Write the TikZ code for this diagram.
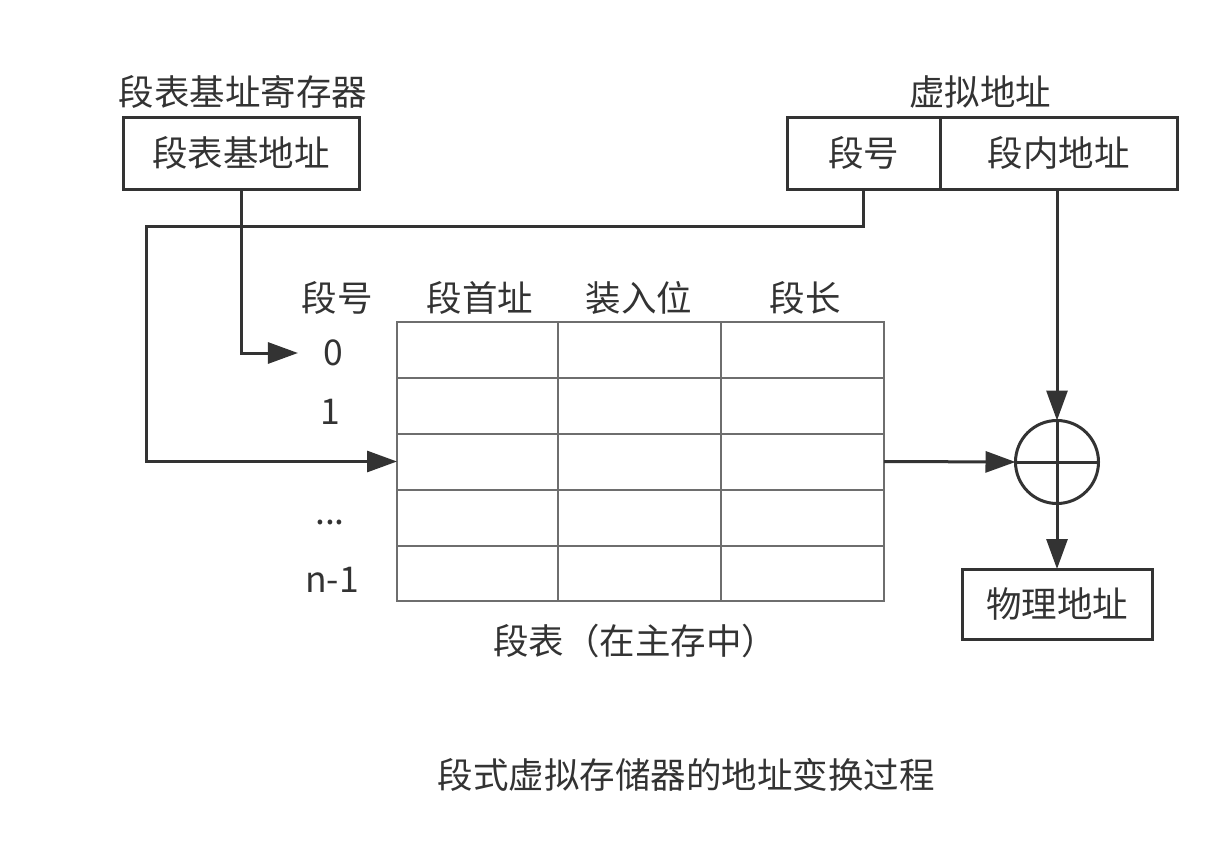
\documentclass[tikz,border=0pt]{standalone}
\usepackage{fontspec}
\setmainfont{Noto Sans CJK SC}
\usetikzlibrary{arrows.meta,positioning}
\definecolor{inkc}{HTML}{333333}
\definecolor{gridc}{HTML}{6E6E6E}
\tikzset{
  ar/.style={-{Triangle[length=30pt,width=21pt]},line width=3pt,inkc},
  box/.style={draw=inkc,line width=3pt,minimum height=72pt,inner sep=0pt,outer sep=0pt,text=inkc},
  lbl/.style={text=inkc,inner sep=0pt},
  grid/.style={gridc,line width=2pt}
}

\begin{document}
\begin{tikzpicture}[x=1pt,y=-1pt,every node/.style={font=\fontsize{35.5pt}{42pt}\selectfont}]
\useasboundingbox (0,0) rectangle (1224,846);
% segment table base register
\node[lbl] (regname) at (243,92) {段表基址寄存器};
\node[box,minimum width=236pt] (tbreg) at (241,153) {段表基地址};
% virtual address
\node[lbl] (vaname) at (980,92) {虚拟地址};
\node[box,minimum width=153pt] (vseg) at (863.5,153) {段号};
\node[box,minimum width=237pt,anchor=west] (voff) at (vseg.east) {段内地址};
% segment table
\node[draw=gridc,line width=2pt,minimum width=487pt,minimum height=279pt,inner sep=0pt,outer sep=0pt] (tbl) at (640.5,461.5) {};
\foreach \c in {558,721} \draw[grid] (\c,322) -- (\c,601);
\foreach \r in {378,434,490,546} \draw[grid] (397,\r) -- (884,\r);
\node[lbl] (hnum) at (337,298) {段号};
\node[lbl] (hbase) at (480,298) {段首址};
\node[lbl] (hload) at (639,298) {装入位};
\node[lbl] (hlen) at (805,298) {段长};
\node[lbl] (r0) at (333,353) {0};
\node[lbl] (r1) at (330,412) {1};
\node[lbl] (rdots) at (330,522) {...};
\node[lbl] (rn) at (332,580) {n-1};
\node[lbl] (tblname) at (635,641) {段表（在主存中）};
% adder and result
\node[draw=inkc,line width=3pt,circle,minimum size=83pt,inner sep=0pt,outer sep=0pt] (adder) at (1057,462) {};
\draw[inkc,line width=3pt] (adder.north) -- (adder.south) (adder.west) -- (adder.east);
\node[box,minimum width=190pt,minimum height=70pt] (phys) at (1057,604) {物理地址};
\node[lbl] (title) at (686,775) {段式虚拟存储器的地址变换过程};
% connectors
\coordinate (bend) at (146,226);
\draw[ar,shorten >=25pt] (tbreg.south) |- (r0.west);
\draw[ar] (vseg.south) |- (bend) |- (tbl.west);
\draw[ar] (tbl.east) -- (adder.west);
\draw[ar] (voff.south -| adder.north) -- (adder.north);
\draw[ar] (adder.south) -- (phys.north);
\end{tikzpicture}
\end{document}
